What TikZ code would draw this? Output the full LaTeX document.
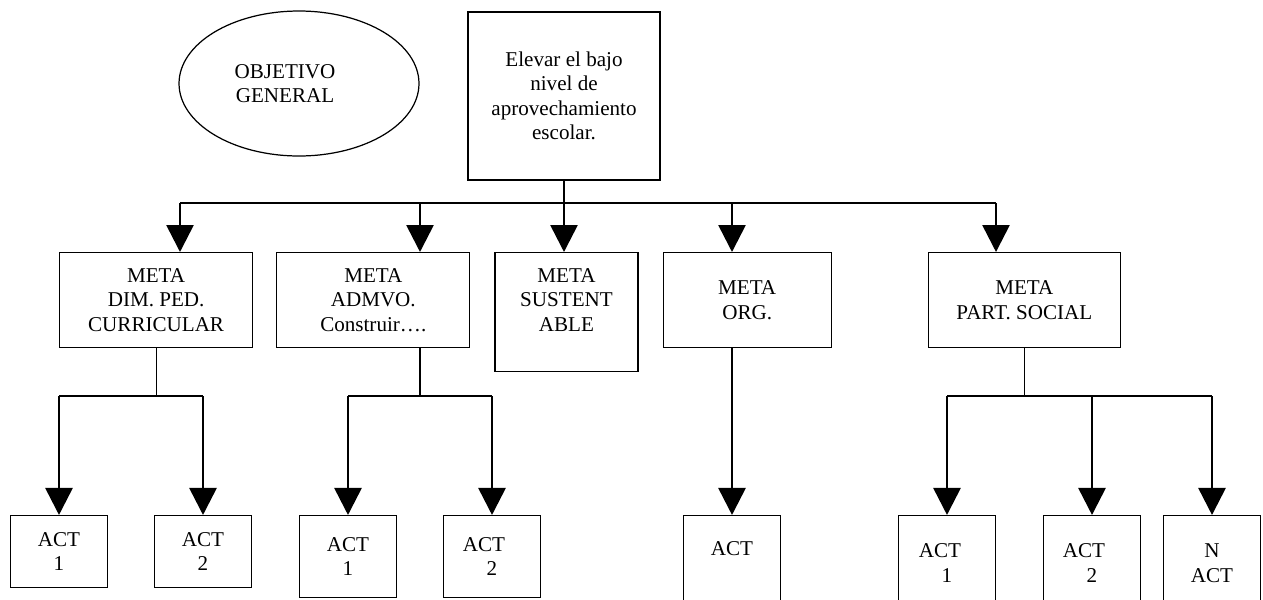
\documentclass[tikz,border=0pt]{standalone}
\usepackage{fontspec}
\setmainfont{Liberation Serif}
\usepackage{tikz}
\usetikzlibrary{positioning,arrows.meta,shapes.geometric}

\begin{document}
\begin{tikzpicture}[x=0.02cm, y=-0.02cm, node distance=0.48cm,
    every node/.style={font=\fontsize{12}{13.9}\selectfont, inner sep=0pt, align=center},
    box/.style={draw, line width=0.7pt},
    meta/.style={box, minimum width=3.86cm, minimum height=1.9cm},
    act/.style={box, minimum width=1.94cm, minimum height=1.44cm},
    link/.style={line width=0.6pt},
    bar/.style={line width=0.9pt},
    arr/.style={line width=1.5pt, -{Triangle[length=0.54cm, width=0.54cm]}}]
    \useasboundingbox (0,0) rectangle (1263,599);
    \clip (0,0) rectangle (1263,599);

    \node[ellipse, draw, line width=0.7pt, minimum width=4.8cm, minimum height=2.9cm] (obj) at (299,83.5) {OBJETIVO\hspace*{0.56cm}\\GENERAL\hspace*{0.56cm}};
    \node[box, minimum width=3.84cm, minimum height=3.36cm] (goal) at (564,96) {Elevar el bajo\\nivel de\\aprovechamiento\\escolar.};

    \node[meta, anchor=north west] (m1) at (59,252) {META\\DIM. PED.\\CURRICULAR};
    \node[meta, right=0.46cm of m1.north east, anchor=north west] (m2) {META\\ADMVO.\\Construir….};
    \node[meta, minimum width=2.86cm, minimum height=2.38cm, right=of m2.north east, anchor=north west] (m3) {META\\SUSTENT\\ABLE\\\mbox{}};
    \node[meta, minimum width=3.36cm, right=of m3.north east, anchor=north west] (m4) {META\\ORG.};
    \node[meta, minimum width=3.84cm, right=1.92cm of m4.north east, anchor=north west] (m5) {META\\PART. SOCIAL};

    \coordinate (k1) at (180,203);
    \coordinate (k2) at (420,203);
    \coordinate (k3) at (564,203);
    \coordinate (k4) at (732,203);
    \coordinate (k5) at (996,203);

    \coordinate (s11) at (59,396);
    \coordinate (s12) at (203,396);
    \coordinate (s21) at (348,396);
    \coordinate (s22) at (492,396);
    \coordinate (s41) at (732,396);
    \coordinate (s51) at (947,396);
    \coordinate (s52) at (1092,396);
    \coordinate (s53) at (1212,396);

    \node[act, below=2.38cm of s11] (a11) {ACT\\1};
    \node[act, below=2.38cm of s12] (a12) {ACT\\2};
    \node[act, minimum height=1.64cm, below=2.38cm of s21] (a21) {ACT\\1};
    \node[act, minimum height=1.64cm, below=2.38cm of s22] (a22) {ACT\hspace*{0.32cm}\\2};
    \node[act, minimum height=1.9cm, text depth=0.6cm, below=2.38cm of s41] (a41) {ACT};
    \node[act, minimum height=1.9cm, below=2.38cm of s51] (a51) {ACT\hspace*{0.28cm}\\1};
    \node[act, minimum height=1.9cm, below=2.38cm of s52] (a52) {ACT\hspace*{0.32cm}\\2};
    \node[act, minimum height=1.9cm, below=2.38cm of s53] (a53) {N\\ACT};

    \path (goal) edge[link] (k3)
          (k1) edge[bar] (k5)
          (k1) edge[arr] (k1 |- m1.north)
          (k2) edge[arr] (k2 |- m2.north)
          (k3) edge[arr] (k3 |- m3.north)
          (k4) edge[arr] (k4 |- m4.north)
          (k5) edge[arr] (k5 |- m5.north);

    \path (m1) edge[link] (m1 |- s11)
          (s11) edge[bar] (s12)
          (s11) edge[arr] (a11)
          (s12) edge[arr] (a12)
          (k2 |- m2.south) edge[link] (k2 |- s21)
          (s21) edge[bar] (s22)
          (s21) edge[arr] (a21)
          (s22) edge[arr] (a22)
          (k4 |- m4.south) edge[link] (s41)
          (s41) edge[arr] (a41)
          (m5) edge[link] (m5 |- s51)
          (s51) edge[bar] (s53)
          (s51) edge[arr] (a51)
          (s52) edge[arr] (a52)
          (s53) edge[arr] (a53);
\end{tikzpicture}
\end{document}
